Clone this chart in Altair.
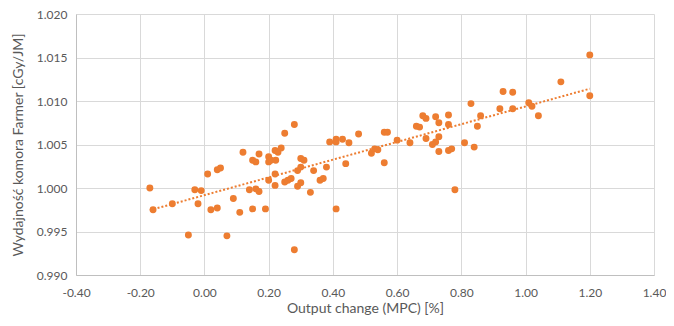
import altair as alt
import pandas as pd

x_vals = [-0.17, -0.16, -0.10, -0.05, -0.03, -0.01, -0.02, 0.01, 0.04, 0.05,
          0.02, 0.04, 0.07, 0.09, 0.11, 0.12, 0.14, 0.15, 0.15, 0.16,
          0.16, 0.17, 0.17, 0.19, 0.20, 0.20, 0.207, 0.22, 0.229, 0.239,
          0.222, 0.25, 0.28, 0.20, 0.22, 0.22, 0.25, 0.26, 0.27, 0.29,
          0.30, 0.29, 0.30, 0.30, 0.31, 0.28, 0.33, 0.34, 0.36, 0.37,
          0.38, 0.41, 0.44, 0.39, 0.41, 0.43, 0.45, 0.41, 0.48, 0.56,
          0.57, 0.60, 0.64, 0.52, 0.53, 0.54, 0.56, 0.68, 0.69, 0.66,
          0.67, 0.72, 0.76, 0.73, 0.76, 0.69, 0.73, 0.72, 0.71, 0.73,
          0.76, 0.77, 0.81, 0.84, 0.83, 0.86, 0.85, 0.78, 0.93, 0.96,
          0.92, 0.96, 1.01, 1.02, 1.04, 1.11, 1.20, 1.20]
y_vals = [1.0000, 0.9975, 0.9982, 0.9946, 0.9998, 0.9997, 0.9982, 1.0016, 1.0021, 1.0023,
          0.9975, 0.9977, 0.9945, 0.9988, 0.9972, 1.0041, 0.9998, 0.9976, 1.0032, 1.0030,
          0.9999, 0.9996, 1.0039, 0.9976, 1.0036, 1.0030, 1.0032, 1.0043, 1.0041, 1.0046,
          1.0032, 1.0063, 1.0073, 1.0009, 1.0016, 1.0003, 1.0007, 1.0009, 1.0011, 1.0020,
          1.0024, 1.0002, 1.0006, 1.0034, 1.0032, 0.9929, 0.9995, 1.0020, 1.0009, 1.0011,
          1.0024, 0.9976, 1.0028, 1.0053, 1.0056, 1.0056, 1.0052, 1.0053, 1.0062, 1.0064,
          1.0064, 1.0055, 1.0052, 1.0040, 1.0045, 1.0044, 1.0029, 1.0083, 1.0080, 1.0071,
          1.0070, 1.0082, 1.0084, 1.0075, 1.0073, 1.0057, 1.0059, 1.0053, 1.0050, 1.0042,
          1.0043, 1.0045, 1.0052, 1.0047, 1.0097, 1.0083, 1.0071, 0.9998, 1.0111, 1.0110,
          1.0091, 1.0091, 1.0098, 1.0094, 1.0083, 1.0122, 1.0153, 1.0106]

x_ticks = [-0.4, -0.2, 0.0, 0.2, 0.4, 0.6, 0.8, 1.0, 1.2, 1.4]
y_ticks = [0.990, 0.995, 1.000, 1.005, 1.010, 1.015, 1.020]

x_title = "Output change (MPC) [%]"
y_title = "Wydajność komora Farmer [cGy/JM]"

df = pd.DataFrame({"x": x_vals, "y": y_vals})

color = "#ED7D31"
font = "Lato"

x_enc = alt.X("x:Q",
              scale=alt.Scale(domain=[-0.4, 1.4], nice=False, zero=False),
              axis=alt.Axis(values=x_ticks, title=x_title,
                            labelExpr="replace(format(datum.value, '.2f'), '\u2212', '-')",
                            labelFlush=False, labelOverlap=False,
                            labelPadding=12, titlePadding=3))
y_enc = alt.Y("y:Q",
              scale=alt.Scale(domain=[0.990, 1.020], nice=False, zero=False),
              axis=alt.Axis(values=y_ticks, title=y_title, format=".3f",
                            labelFlush=False, labelOverlap=False,
                            labelPadding=9, titlePadding=11))

base = alt.Chart(df)

trend = base.transform_regression("x", "y").mark_line(
    color=color, strokeWidth=2, strokeDash=[2, 2]
).encode(x=x_enc, y=y_enc)

points = base.mark_circle(size=48, color=color, opacity=1).encode(x=x_enc, y=y_enc)

chart = alt.layer(trend, points).properties(
    width=578, height=261,
    autosize=alt.AutoSizeParams(type="none"),
    padding={"left": 68, "top": 6, "right": 12, "bottom": 43},
    background="white"
).configure_view(stroke=None).configure_axis(
    labelFont=font, titleFont=font, labelFontSize=12, titleFontSize=14,
    labelColor="#595959", titleColor="#595959", titleFontWeight="normal",
    gridColor="#D9D9D9", gridWidth=1, domainColor="#BFBFBF", ticks=False,
)

chart.save("out.html", embed_options={"renderer": "svg", "actions": False})
